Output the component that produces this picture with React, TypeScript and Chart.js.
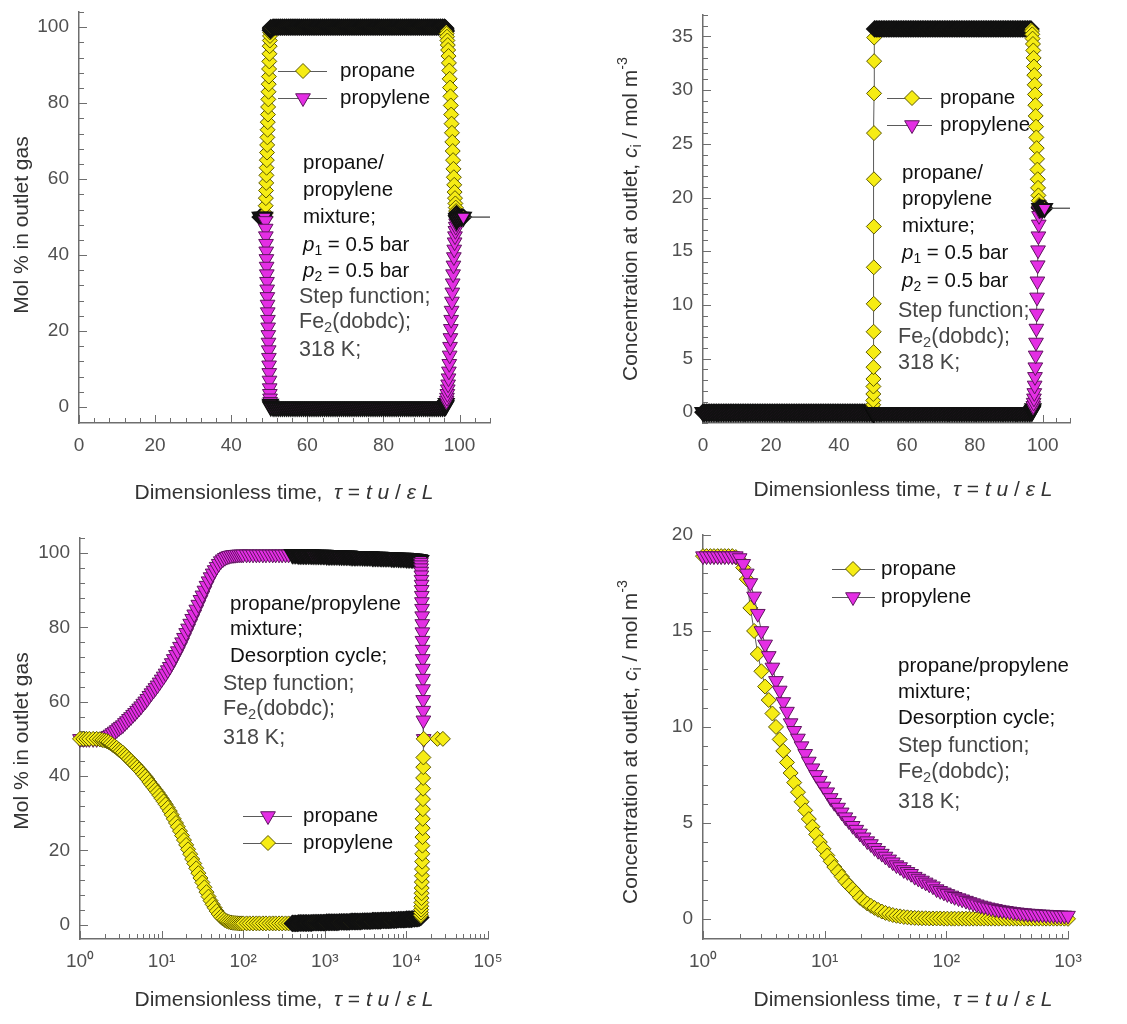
import React, { useEffect, useRef } from 'react';
import { Chart, registerables } from 'chart.js';

Chart.register(...registerables);

const PAGE_W = 1127;
const PAGE_H = 1024;
const FONT = '"Liberation Sans", Arial, Helvetica, sans-serif';

// ---------- top-left: outlet composition (mol %) during the adsorption step ----------
const adsTime = [
  47.6, 48, 48.4, 48.8,
  49, 49.05, 49.1, 49.15, 49.2, 49.25, 49.3, 49.35, 49.4, 49.45,
  49.5, 49.55, 49.6, 49.65, 49.7, 49.75, 49.8, 49.85, 49.9, 49.95,
  50, 50.05, 50.1, 50.15, 50.2, 50.25, 50.3, 50.35, 50.4,
  51, 51.5, 52, 52.5, 53, 53.5, 54, 54.5, 55, 55.5, 56, 56.5, 57, 57.5, 58, 58.5, 59, 59.5, 60, 60.5,
  61, 61.5, 62, 62.5, 63, 63.5, 64, 64.5, 65, 65.5, 66, 66.5, 67, 67.5, 68, 68.5, 69, 69.5, 70, 70.5,
  71, 71.5, 72, 72.5, 73, 73.5, 74, 74.5, 75, 75.5, 76, 76.5, 77, 77.5, 78, 78.5, 79, 79.5, 80, 80.5,
  81, 81.5, 82, 82.5, 83, 83.5, 84, 84.5, 85, 85.5, 86, 86.5, 87, 87.5, 88, 88.5, 89, 89.5, 90, 90.5,
  91, 91.5, 92, 92.5, 93, 93.5, 94, 94.5, 95, 95.5, 96,
  96.3, 96.4, 96.5, 96.6, 96.7, 96.8, 96.9, 97, 97.1, 97.2,
  97.3, 97.4, 97.5, 97.6, 97.7, 97.8, 97.9, 98, 98.1, 98.2,
  98.3, 98.4, 98.5, 98.6, 98.7, 98.8, 98.9, 99, 99.1, 99.2, 99.3,
  99.6, 100, 100.5, 101, 115,
];
const adsPropaneMolPct = [
  50, 50, 50, 50,
  51, 53, 55, 57, 59, 61, 63, 65, 67, 69,
  71, 73, 75, 77, 79, 81, 83, 85, 87, 89,
  91, 93, 95, 96.5, 97.7, 98.6, 99.2, 99.6, 99.9,
  100, 100, 100, 100, 100, 100, 100, 100, 100, 100, 100, 100, 100, 100, 100, 100, 100, 100, 100, 100,
  100, 100, 100, 100, 100, 100, 100, 100, 100, 100, 100, 100, 100, 100, 100, 100, 100, 100, 100, 100,
  100, 100, 100, 100, 100, 100, 100, 100, 100, 100, 100, 100, 100, 100, 100, 100, 100, 100, 100, 100,
  100, 100, 100, 100, 100, 100, 100, 100, 100, 100, 100, 100, 100, 100, 100, 100, 100, 100, 100, 100,
  100, 100, 100, 100, 100, 100, 100, 100, 100, 100, 100,
  99.8, 99.5, 99, 98.3, 97.5, 96.5, 95.3, 94, 92.4, 90.6,
  88.6, 86.4, 84.1, 81.8, 79.4, 77, 74.6, 72.2, 69.8, 67.4,
  65, 62.7, 60.5, 58.5, 56.6, 55, 53.6, 52.5, 51.6, 50.9, 50.4,
  50.1, 50, 50, 50, 50,
];
const adsPropyleneMolPct = [
  50, 50, 50, 50,
  49, 47, 45, 43, 41, 39, 37, 35, 33, 31,
  29, 27, 25, 23, 21, 19, 17, 15, 13, 11,
  9, 7, 5, 3.5, 2.3, 1.4, 0.8, 0.4, 0.1,
  0, 0, 0, 0, 0, 0, 0, 0, 0, 0, 0, 0, 0, 0, 0, 0, 0, 0, 0, 0,
  0, 0, 0, 0, 0, 0, 0, 0, 0, 0, 0, 0, 0, 0, 0, 0, 0, 0, 0, 0,
  0, 0, 0, 0, 0, 0, 0, 0, 0, 0, 0, 0, 0, 0, 0, 0, 0, 0, 0, 0,
  0, 0, 0, 0, 0, 0, 0, 0, 0, 0, 0, 0, 0, 0, 0, 0, 0, 0, 0, 0,
  0, 0, 0, 0, 0, 0, 0, 0, 0, 0, 0,
  0.2, 0.5, 1, 1.7, 2.5, 3.5, 4.7, 6, 7.6, 9.4,
  11.4, 13.6, 15.9, 18.2, 20.6, 23, 25.4, 27.8, 30.2, 32.6,
  35, 37.3, 39.5, 41.5, 43.4, 45, 46.4, 47.5, 48.4, 49.1, 49.6,
  49.9, 50, 50, 50, 50,
];

// ---------- top-right: outlet concentrations (mol m^-3) during adsorption ----------
const adsConcTime = [
  0, 0.5, 1, 1.5, 2, 2.5, 3, 3.5, 4, 4.5, 5, 5.5, 6, 6.5, 7, 7.5, 8, 8.5, 9, 9.5,
  10, 10.5, 11, 11.5, 12, 12.5, 13, 13.5, 14, 14.5, 15, 15.5, 16, 16.5, 17, 17.5, 18, 18.5, 19, 19.5,
  20, 20.5, 21, 21.5, 22, 22.5, 23, 23.5, 24, 24.5, 25, 25.5, 26, 26.5, 27, 27.5, 28, 28.5, 29, 29.5,
  30, 30.5, 31, 31.5, 32, 32.5, 33, 33.5, 34, 34.5, 35, 35.5, 36, 36.5, 37, 37.5, 38, 38.5, 39, 39.5,
  40, 40.5, 41, 41.5, 42, 42.5, 43, 43.5, 44, 44.5, 45, 45.5, 46, 46.5, 47, 47.5, 48, 48.5, 49, 49.5,
  50, 50.02, 50.04, 50.06, 50.08, 50.1, 50.12, 50.14, 50.16, 50.18,
  50.2, 50.22, 50.24, 50.26, 50.28, 50.3, 50.32, 50.34, 50.36, 50.38,
  50.5, 51, 51.5, 52, 52.5, 53, 53.5, 54, 54.5, 55, 55.5, 56, 56.5, 57, 57.5, 58, 58.5, 59, 59.5, 60,
  60.5, 61, 61.5, 62, 62.5, 63, 63.5, 64, 64.5, 65, 65.5, 66, 66.5, 67, 67.5, 68, 68.5, 69, 69.5, 70,
  70.5, 71, 71.5, 72, 72.5, 73, 73.5, 74, 74.5, 75, 75.5, 76, 76.5, 77, 77.5, 78, 78.5, 79, 79.5, 80,
  80.5, 81, 81.5, 82, 82.5, 83, 83.5, 84, 84.5, 85, 85.5, 86, 86.5, 87, 87.5, 88, 88.5, 89, 89.5, 90,
  90.5, 91, 91.5, 92, 92.5, 93, 93.5, 94, 94.5, 95, 95.5, 96, 96.5,
  96.8, 96.9, 97, 97.1, 97.2, 97.3, 97.4, 97.5, 97.6, 97.7, 97.8, 97.9,
  98, 98.1, 98.2, 98.3, 98.4, 98.5, 98.6, 98.7, 98.8, 98.9, 99, 99.1,
  99.5, 100, 100.5, 115,
];
const adsPropaneConc = [
  0, 0, 0, 0, 0, 0, 0, 0, 0, 0, 0, 0, 0, 0, 0, 0, 0, 0, 0, 0,
  0, 0, 0, 0, 0, 0, 0, 0, 0, 0, 0, 0, 0, 0, 0, 0, 0, 0, 0, 0,
  0, 0, 0, 0, 0, 0, 0, 0, 0, 0, 0, 0, 0, 0, 0, 0, 0, 0, 0, 0,
  0, 0, 0, 0, 0, 0, 0, 0, 0, 0, 0, 0, 0, 0, 0, 0, 0, 0, 0, 0,
  0, 0, 0, 0, 0, 0, 0, 0, 0, 0, 0, 0, 0, 0, 0, 0, 0, 0, 0, 0,
  0.05, 0.1, 0.2, 0.4, 0.7, 1.1, 1.7, 2.4, 3.1, 4.2,
  5.6, 7.5, 10.1, 13.5, 17.3, 21.7, 26, 29.7, 32.7, 34.9,
  35.7, 35.7, 35.7, 35.7, 35.7, 35.7, 35.7, 35.7, 35.7, 35.7, 35.7, 35.7, 35.7, 35.7, 35.7, 35.7, 35.7, 35.7, 35.7, 35.7,
  35.7, 35.7, 35.7, 35.7, 35.7, 35.7, 35.7, 35.7, 35.7, 35.7, 35.7, 35.7, 35.7, 35.7, 35.7, 35.7, 35.7, 35.7, 35.7, 35.7,
  35.7, 35.7, 35.7, 35.7, 35.7, 35.7, 35.7, 35.7, 35.7, 35.7, 35.7, 35.7, 35.7, 35.7, 35.7, 35.7, 35.7, 35.7, 35.7, 35.7,
  35.7, 35.7, 35.7, 35.7, 35.7, 35.7, 35.7, 35.7, 35.7, 35.7, 35.7, 35.7, 35.7, 35.7, 35.7, 35.7, 35.7, 35.7, 35.7, 35.7,
  35.7, 35.7, 35.7, 35.7, 35.7, 35.7, 35.7, 35.7, 35.7, 35.7, 35.7, 35.7, 35.7,
  35.5, 35.2, 34.8, 34.3, 33.7, 33, 32.2, 31.4, 30.5, 29.6, 28.6, 27.6,
  26.6, 25.6, 24.6, 23.6, 22.6, 21.7, 20.9, 20.2, 19.7, 19.3, 19.1, 19,
  19, 19, 19, 19,
];
const adsPropyleneConc = [
  0, 0, 0, 0, 0, 0, 0, 0, 0, 0, 0, 0, 0, 0, 0, 0, 0, 0, 0, 0,
  0, 0, 0, 0, 0, 0, 0, 0, 0, 0, 0, 0, 0, 0, 0, 0, 0, 0, 0, 0,
  0, 0, 0, 0, 0, 0, 0, 0, 0, 0, 0, 0, 0, 0, 0, 0, 0, 0, 0, 0,
  0, 0, 0, 0, 0, 0, 0, 0, 0, 0, 0, 0, 0, 0, 0, 0, 0, 0, 0, 0,
  0, 0, 0, 0, 0, 0, 0, 0, 0, 0, 0, 0, 0, 0, 0, 0, 0, 0, 0, 0,
  0, 0, 0, 0, 0, 0, 0, 0, 0, 0,
  0, 0, 0, 0, 0, 0, 0, 0, 0, 0,
  0, 0, 0, 0, 0, 0, 0, 0, 0, 0, 0, 0, 0, 0, 0, 0, 0, 0, 0, 0,
  0, 0, 0, 0, 0, 0, 0, 0, 0, 0, 0, 0, 0, 0, 0, 0, 0, 0, 0, 0,
  0, 0, 0, 0, 0, 0, 0, 0, 0, 0, 0, 0, 0, 0, 0, 0, 0, 0, 0, 0,
  0, 0, 0, 0, 0, 0, 0, 0, 0, 0, 0, 0, 0, 0, 0, 0, 0, 0, 0, 0,
  0, 0, 0, 0, 0, 0, 0, 0, 0, 0, 0, 0, 0,
  0.05, 0.1, 0.2, 0.35, 0.6, 0.9, 1.3, 1.8, 2.5, 3.3, 4.2, 5.3,
  6.5, 7.8, 9.2, 10.7, 12.2, 13.7, 15.1, 16.4, 17.5, 18.3, 18.8, 19,
  19, 19, 19, 19,
];

// ---------- bottom-left: outlet composition (mol %) during desorption ----------
const desTime = [
  1, 1.1, 1.2, 1.3, 1.45, 1.6, 1.75, 1.88,
  2, 2.12, 2.24, 2.37, 2.51, 2.66, 2.82, 2.99, 3.16, 3.35,
  3.55, 3.76, 3.98, 4.22, 4.47, 4.73, 5.01, 5.31, 5.62, 5.96,
  6.31, 6.68, 7.08, 7.5, 7.94, 8.41, 8.91, 9.44, 10, 10.6,
  11.2, 11.9, 12.6, 13.3, 14.1, 15, 15.8, 16.8, 17.8, 18.8,
  20, 21.1, 22.4, 23.7, 25.1, 26.6, 28.2, 29.9, 31.6, 33.5,
  35.5, 37.6, 39.8, 42.2, 44.7, 47.3, 50.1, 53.1, 56.2, 59.6,
  63.1, 66.8, 70.8, 75, 79.4, 84.1, 89.1, 94.4, 100,
  110, 120, 132, 145, 158, 174, 190, 210, 230, 250,
  275, 300, 330, 360, 400,
  420, 440, 460, 480, 500, 525, 550, 575, 600, 630,
  660, 690, 720, 760, 800, 840, 880, 920, 960, 1000,
  1050, 1100, 1150, 1200, 1260, 1320, 1380, 1450, 1520, 1600,
  1680, 1760, 1840, 1920, 2000, 2100, 2200, 2300, 2400, 2500,
  2630, 2760, 2900, 3050, 3200, 3350, 3500, 3670, 3850, 4000,
  4200, 4400, 4600, 4800, 5000, 5250, 5500, 5750, 6000, 6300,
  6600, 6900, 7200, 7600, 8000, 8400, 8800, 9200, 9600, 10000,
  10500, 11000, 11500, 12000, 12600, 13200, 13800, 14400,
  15000, 15050, 15100, 15150, 15200, 15250, 15300, 15350, 15400, 15450,
  15500, 15550, 15600, 15650, 15700, 15750, 15800, 15850, 15900, 15950,
  16000, 16050, 16100, 16150,
  16300, 24000, 28000,
];
// legend of this panel: magenta triangles = "propane" (series ends at the 16300 point)
const desPropaneMolPct = [
  50, 50, 50, 50, 50, 50, 50.1, 50.3,
  50.45, 50.6, 50.85, 51.2, 51.6, 52, 52.4, 52.9, 53.3, 53.7,
  54.3, 54.8, 55.4, 55.9, 56.5, 57, 57.6, 58.2, 58.8, 59.5,
  60.1, 60.8, 61.6, 62.3, 63, 63.7, 64.4, 65.2, 66, 66.8,
  67.6, 68.5, 69.4, 70.4, 71.5, 72.6, 73.6, 74.8, 76, 77.2,
  78.5, 79.7, 81, 82.3, 83.5, 84.8, 86.1, 87.4, 88.6, 89.9,
  91.2, 92.4, 93.5, 94.5, 95.4, 96.3, 97.1, 97.8, 98.3, 98.7,
  99, 99.2, 99.35, 99.45, 99.5, 99.55, 99.6, 99.6, 99.6,
  99.6, 99.6, 99.6, 99.6, 99.6, 99.6, 99.6, 99.6, 99.6, 99.6,
  99.6, 99.6, 99.6, 99.6, 99.6,
  99.6, 99.6, 99.6, 99.5, 99.5, 99.5, 99.5, 99.5, 99.5, 99.5,
  99.5, 99.5, 99.4, 99.4, 99.4, 99.4, 99.4, 99.4, 99.4, 99.4,
  99.3, 99.3, 99.3, 99.3, 99.3, 99.3, 99.3, 99.3, 99.2, 99.2,
  99.2, 99.2, 99.2, 99.2, 99.2, 99.1, 99.1, 99.1, 99.1, 99.1,
  99.1, 99.1, 99, 99, 99, 99, 99, 99, 98.9, 98.9,
  98.9, 98.9, 98.9, 98.9, 98.8, 98.8, 98.8, 98.8, 98.8, 98.8,
  98.7, 98.7, 98.7, 98.7, 98.6, 98.6, 98.6, 98.6, 98.6, 98.5,
  98.5, 98.5, 98.5, 98.4, 98.4, 98.3, 98.3, 98.2,
  98, 97.4, 96.7, 95.9, 95, 94, 92.8, 91.5, 90.1, 88.5,
  86.8, 85, 83, 80.9, 78.7, 76.4, 74, 71.5, 68.9, 66.2,
  63.4, 60.5, 57.6, 55,
  50,
];
// legend of this panel: yellow diamonds = "propylene"
const desPropyleneMolPct = [
  50, 50, 50, 50, 50, 50, 49.9, 49.7,
  49.55, 49.4, 49.15, 48.8, 48.4, 48, 47.6, 47.1, 46.7, 46.3,
  45.7, 45.2, 44.6, 44.1, 43.5, 43, 42.4, 41.8, 41.2, 40.5,
  39.9, 39.2, 38.4, 37.7, 37, 36.3, 35.6, 34.8, 34, 33.2,
  32.4, 31.5, 30.6, 29.6, 28.5, 27.4, 26.4, 25.2, 24, 22.8,
  21.5, 20.3, 19, 17.7, 16.5, 15.2, 13.9, 12.6, 11.4, 10.1,
  8.8, 7.6, 6.5, 5.5, 4.6, 3.7, 2.9, 2.2, 1.7, 1.3,
  1, 0.8, 0.65, 0.55, 0.5, 0.45, 0.4, 0.4, 0.4,
  0.4, 0.4, 0.4, 0.4, 0.4, 0.4, 0.4, 0.4, 0.4, 0.4,
  0.4, 0.4, 0.4, 0.4, 0.4,
  0.4, 0.4, 0.4, 0.5, 0.5, 0.5, 0.5, 0.5, 0.5, 0.5,
  0.5, 0.5, 0.6, 0.6, 0.6, 0.6, 0.6, 0.6, 0.6, 0.6,
  0.7, 0.7, 0.7, 0.7, 0.7, 0.7, 0.7, 0.7, 0.8, 0.8,
  0.8, 0.8, 0.8, 0.8, 0.8, 0.9, 0.9, 0.9, 0.9, 0.9,
  0.9, 0.9, 1, 1, 1, 1, 1, 1, 1.1, 1.1,
  1.1, 1.1, 1.1, 1.1, 1.2, 1.2, 1.2, 1.2, 1.2, 1.2,
  1.3, 1.3, 1.3, 1.3, 1.4, 1.4, 1.4, 1.4, 1.4, 1.5,
  1.5, 1.5, 1.5, 1.6, 1.6, 1.7, 1.7, 1.8,
  2, 2.6, 3.3, 4.1, 5, 6, 7.2, 8.5, 9.9, 11.5,
  13.2, 15, 17, 19.1, 21.3, 23.6, 26, 28.5, 31.1, 33.8,
  36.6, 39.5, 42.4, 45,
  50, 50, 50,
];

// ---------- bottom-right: outlet concentrations (mol m^-3) during desorption ----------
const desConcTime = [
  1, 1.07, 1.15, 1.23, 1.32, 1.41, 1.51, 1.62, 1.74, 1.86,
  2, 2.14, 2.29, 2.45, 2.63, 2.82, 3.02, 3.24, 3.47, 3.72,
  3.98, 4.27, 4.57, 4.9, 5.25, 5.62, 6.03, 6.46, 6.92, 7.41,
  7.94, 8.51, 9.12, 9.77, 10.5, 11.2, 12, 12.9, 13.8, 14.8,
  15.8, 17, 18.2, 19.5, 20.9, 22.4, 24, 25.7, 27.5, 29.5,
  31.6, 33.9, 36.3, 38.9, 41.7, 44.7, 47.9, 51.3, 55, 58.9,
  63.1, 67.6, 72.4, 77.6, 83.2, 89.1, 95.5, 102, 110, 117,
  126, 135, 145, 155, 166, 178, 191, 204, 219, 234,
  251, 269, 288, 309, 331, 355, 380, 407, 437, 468,
  501, 537, 575, 617, 661, 708, 759, 813, 871, 933,
  1000,
];
const desPropaneConc = [
  18.9, 18.9, 18.9, 18.9, 18.9, 18.9, 18.9, 18.9, 18.9, 18.85,
  18.7, 18.3, 17.7, 16.2, 15, 13.8, 12.9, 12.1, 11.4, 10.7,
  10, 9.35, 8.75, 8.15, 7.6, 7.1, 6.6, 6.1, 5.65, 5.2,
  4.8, 4.4, 4, 3.65, 3.3, 3, 2.7, 2.45, 2.2, 1.95,
  1.75, 1.55, 1.35, 1.1, 0.95, 0.8, 0.68, 0.57, 0.47, 0.38,
  0.31, 0.25, 0.2, 0.16, 0.13, 0.1, 0.08, 0.06, 0.05, 0.04,
  0.03, 0.03, 0.02, 0.02, 0.02, 0.02, 0.01, 0.01, 0.01, 0.01,
  0.01, 0.01, 0.01, 0.01, 0.01, 0.01, 0.01, 0.01, 0.01, 0.01,
  0.01, 0.01, 0.01, 0.01, 0.01, 0.01, 0.01, 0.01, 0.01, 0.01,
  0.01, 0.01, 0.01, 0.01, 0.01, 0.01, 0.01, 0.01, 0.01, 0.01,
  0,
];
const desPropyleneConc = [
  18.9, 18.9, 18.9, 18.9, 18.9, 18.9, 18.9, 18.9, 18.9, 18.9,
  18.8, 18.5, 18, 17.5, 16.8, 15.9, 15, 14.3, 13.7, 13.1,
  12.4, 11.9, 11.3, 10.8, 10.2, 9.8, 9.4, 9, 8.6, 8.2,
  7.85, 7.5, 7.2, 6.9, 6.6, 6.3, 6.05, 5.8, 5.55, 5.3,
  5.1, 4.85, 4.65, 4.45, 4.25, 4.05, 3.9, 3.7, 3.55, 3.4,
  3.25, 3.1, 2.95, 2.8, 2.7, 2.55, 2.45, 2.35, 2.2, 2.1,
  2, 1.9, 1.8, 1.7, 1.55, 1.46, 1.38, 1.3, 1.22, 1.15,
  1.08, 1.02, 0.95, 0.88, 0.82, 0.76, 0.7, 0.65, 0.6, 0.56,
  0.52, 0.48, 0.45, 0.42, 0.39, 0.36, 0.34, 0.32, 0.3, 0.28,
  0.27, 0.25, 0.24, 0.23, 0.22, 0.21, 0.2, 0.19, 0.18, 0.18,
  0.17,
];

// ---------- axis ticks ----------
const linearTimeTicks = [0, 20, 40, 60, 80, 100];
const linearTimeLabels = ['0', '20', '40', '60', '80', '100'];
const molPctTicks = [0, 20, 40, 60, 80, 100];
const molPctLabels = ['0', '20', '40', '60', '80', '100'];
const adsConcTicks = [0, 5, 10, 15, 20, 25, 30, 35];
const adsConcLabels = ['0', '5', '10', '15', '20', '25', '30', '35'];
const desConcTicks = [0, 5, 10, 15, 20];
const desConcLabels = ['0', '5', '10', '15', '20'];
const logTimeTicksWide = [1, 10, 100, 1000, 10000, 100000];
const logTimeLabelsWide = ['10⁰', '10¹', '10²', '10³', '10⁴', '10⁵'];
const logTimeTicksShort = [1, 10, 100, 1000];
const logTimeLabelsShort = ['10⁰', '10¹', '10²', '10³'];

// ---------- styling ----------
const YELLOW_FILL = '#f6ec14';
const YELLOW_EDGE = '#5c5800';
const MAGENTA_FILL = '#e42ee4';
const MAGENTA_EDGE = '#5e145e';
const DENSE_EDGE = '#111111';
const LINK = '#5a5a5a';
const AXIS = '#6e6e6e';
const TICK_TEXT = '#505050';
const TITLE_TEXT = '#333333';
const NOTE_DARK = '#111111';
const NOTE_GRAY = '#474747';
const DIAMOND_R = 7.5;
const TRIANGLE_R = 8.5;
const PACKED_PX = 1.96;
const Y_SCALE_W = 60;
const X_SCALE_H = 40;

type Marker = 'diamond' | 'triangle';
interface SeriesSpec { label: string; time: number[]; values: number[]; marker: Marker; front: boolean }
interface AxisSpec { type: 'linear' | 'logarithmic'; min: number; max: number; ticks: number[]; labels: string[]; minorStep?: number }
interface Note { text: string; x: number; y: number; gray?: boolean }
interface PanelSpec {
  key: string;
  area: { left: number; top: number; right: number; bottom: number };
  x: AxisSpec;
  y: AxisSpec;
  series: SeriesSpec[];
  clip: any;
  yTitle: string;
  yTitleAt: [number, number];
  xTitle: string;
  xTitleAt: [number, number];
  legend: { lineFrom: number; lineTo: number; markerX: number; textX: number; rows: { series: number; y: number }[] };
  notes: Note[];
}

const X_TITLE = 'Dimensionless time,  *τ* = *t u* / *ε L*';
const CONC_TITLE = 'Concentration at outlet, *c*_{i} / mol m^{-3}';

const PANELS: PanelSpec[] = [
  {
    key: 'ads-molpct',
    area: { left: 79, top: 12, right: 490, bottom: 423 },
    x: { type: 'linear', min: 0, max: 108, ticks: linearTimeTicks, labels: linearTimeLabels, minorStep: 4 },
    y: { type: 'linear', min: -4.2, max: 104, ticks: molPctTicks, labels: molPctLabels, minorStep: 4 },
    series: [
      { label: 'propane', time: adsTime, values: adsPropaneMolPct, marker: 'diamond', front: false },
      { label: 'propylene', time: adsTime, values: adsPropyleneMolPct, marker: 'triangle', front: true },
    ],
    clip: { left: 12, top: 12, right: 0, bottom: 12 },
    yTitle: 'Mol % in outlet gas',
    yTitleAt: [22, 225],
    xTitle: X_TITLE,
    xTitleAt: [284, 493],
    legend: { lineFrom: 278, lineTo: 327, markerX: 303, textX: 340, rows: [{ series: 0, y: 71 }, { series: 1, y: 98 }] },
    notes: [
      { text: 'propane/', x: 303, y: 163 },
      { text: 'propylene', x: 303, y: 190 },
      { text: 'mixture;', x: 303, y: 217 },
      { text: '*p*_{1} = 0.5 bar', x: 303, y: 245 },
      { text: '*p*_{2} = 0.5 bar', x: 303, y: 271 },
      { text: 'Step function;', x: 299, y: 297, gray: true },
      { text: 'Fe_{2}(dobdc);', x: 299, y: 322, gray: true },
      { text: '318 K;', x: 299, y: 350, gray: true },
    ],
  },
  {
    key: 'ads-conc',
    area: { left: 703, top: 15, right: 1070, bottom: 423 },
    x: { type: 'linear', min: 0, max: 108, ticks: linearTimeTicks, labels: linearTimeLabels, minorStep: 4 },
    y: { type: 'linear', min: -1, max: 37, ticks: adsConcTicks, labels: adsConcLabels, minorStep: 1 },
    series: [
      { label: 'propane', time: adsConcTime, values: adsPropaneConc, marker: 'diamond', front: false },
      { label: 'propylene', time: adsConcTime, values: adsPropyleneConc, marker: 'triangle', front: true },
    ],
    clip: { left: 12, top: 12, right: 0, bottom: 12 },
    yTitle: CONC_TITLE,
    yTitleAt: [631, 219],
    xTitle: X_TITLE,
    xTitleAt: [903, 490],
    legend: { lineFrom: 887, lineTo: 932, markerX: 912, textX: 940, rows: [{ series: 0, y: 98 }, { series: 1, y: 125 }] },
    notes: [
      { text: 'propane/', x: 902, y: 173 },
      { text: 'propylene', x: 902, y: 199 },
      { text: 'mixture;', x: 902, y: 226 },
      { text: '*p*_{1} = 0.5 bar', x: 902, y: 253 },
      { text: '*p*_{2} = 0.5 bar', x: 902, y: 281 },
      { text: 'Step function;', x: 898, y: 311, gray: true },
      { text: 'Fe_{2}(dobdc);', x: 898, y: 337, gray: true },
      { text: '318 K;', x: 898, y: 363, gray: true },
    ],
  },
  {
    key: 'des-molpct',
    area: { left: 80, top: 538, right: 488, bottom: 939 },
    x: { type: 'logarithmic', min: 1, max: 100000, ticks: logTimeTicksWide, labels: logTimeLabelsWide },
    y: { type: 'linear', min: -3.8, max: 104, ticks: molPctTicks, labels: molPctLabels, minorStep: 4 },
    series: [
      { label: 'propane', time: desTime, values: desPropaneMolPct, marker: 'triangle', front: false },
      { label: 'propylene', time: desTime, values: desPropyleneMolPct, marker: 'diamond', front: true },
    ],
    clip: false,
    yTitle: 'Mol % in outlet gas',
    yTitleAt: [22, 741],
    xTitle: X_TITLE,
    xTitleAt: [284, 1000],
    legend: { lineFrom: 243, lineTo: 292, markerX: 268, textX: 303, rows: [{ series: 0, y: 816 }, { series: 1, y: 843 }] },
    notes: [
      { text: 'propane/propylene', x: 230, y: 604 },
      { text: 'mixture;', x: 230, y: 629 },
      { text: 'Desorption cycle;', x: 230, y: 656 },
      { text: 'Step function;', x: 223, y: 684, gray: true },
      { text: 'Fe_{2}(dobdc);', x: 223, y: 709, gray: true },
      { text: '318 K;', x: 223, y: 738, gray: true },
    ],
  },
  {
    key: 'des-conc',
    area: { left: 703, top: 535, right: 1068, bottom: 939 },
    x: { type: 'logarithmic', min: 1, max: 1000, ticks: logTimeTicksShort, labels: logTimeLabelsShort },
    y: { type: 'linear', min: -1.05, max: 20, ticks: desConcTicks, labels: desConcLabels, minorStep: 1 },
    series: [
      { label: 'propane', time: desConcTime, values: desPropaneConc, marker: 'diamond', front: false },
      { label: 'propylene', time: desConcTime, values: desPropyleneConc, marker: 'triangle', front: true },
    ],
    clip: false,
    yTitle: CONC_TITLE,
    yTitleAt: [631, 742],
    xTitle: X_TITLE,
    xTitleAt: [903, 1000],
    legend: { lineFrom: 832, lineTo: 875, markerX: 853, textX: 881, rows: [{ series: 0, y: 569 }, { series: 1, y: 597 }] },
    notes: [
      { text: 'propane/propylene', x: 898, y: 666 },
      { text: 'mixture;', x: 898, y: 692 },
      { text: 'Desorption cycle;', x: 898, y: 718 },
      { text: 'Step function;', x: 898, y: 746, gray: true },
      { text: 'Fe_{2}(dobdc);', x: 898, y: 772, gray: true },
      { text: '318 K;', x: 898, y: 802, gray: true },
    ],
  },
];

// ---------- rich text: *italic*, _{sub}, ^{sup} ----------
type Seg = { t: string; it: boolean; mode: number };
function parseRich(src: string): Seg[] {
  const segs: Seg[] = [];
  let it = false;
  let buf = '';
  const flush = () => {
    if (buf) segs.push({ t: buf, it, mode: 0 });
    buf = '';
  };
  for (let i = 0; i < src.length; i++) {
    const c = src[i];
    if (c === '*') {
      flush();
      it = !it;
      continue;
    }
    if ((c === '_' || c === '^') && src[i + 1] === '{') {
      flush();
      const end = src.indexOf('}', i + 2);
      segs.push({ t: src.slice(i + 2, end), it, mode: c === '^' ? 1 : -1 });
      i = end;
      continue;
    }
    buf += c;
  }
  flush();
  return segs;
}

function drawRich(ctx: CanvasRenderingContext2D, text: string, x: number, y: number, size: number, color: string, align: 'left' | 'center', angle = 0) {
  const segs = parseRich(text);
  const fontOf = (s: Seg) => `${s.it ? 'italic ' : ''}${s.mode ? size * 0.68 : size}px ${FONT}`;
  let total = 0;
  for (const s of segs) {
    ctx.font = fontOf(s);
    total += ctx.measureText(s.t).width;
  }
  ctx.save();
  ctx.translate(x, y);
  ctx.rotate(angle);
  ctx.fillStyle = color;
  ctx.textBaseline = 'middle';
  ctx.textAlign = 'left';
  let cx = align === 'center' ? -total / 2 : 0;
  for (const s of segs) {
    ctx.font = fontOf(s);
    const dy = s.mode === -1 ? size * 0.3 : s.mode === 1 ? -size * 0.38 : 0;
    ctx.fillText(s.t, cx, dy);
    cx += ctx.measureText(s.t).width;
  }
  ctx.restore();
}

function drawMarker(ctx: CanvasRenderingContext2D, kind: Marker, x: number, y: number) {
  ctx.beginPath();
  if (kind === 'diamond') {
    const r = DIAMOND_R;
    ctx.moveTo(x, y - r);
    ctx.lineTo(x + r, y);
    ctx.lineTo(x, y + r);
    ctx.lineTo(x - r, y);
  } else {
    const r = TRIANGLE_R;
    ctx.moveTo(x, y + r);
    ctx.lineTo(x - r * 0.866, y - r / 2);
    ctx.lineTo(x + r * 0.866, y - r / 2);
  }
  ctx.closePath();
  ctx.fillStyle = kind === 'diamond' ? YELLOW_FILL : MAGENTA_FILL;
  ctx.fill();
  ctx.strokeStyle = kind === 'diamond' ? YELLOW_EDGE : MAGENTA_EDGE;
  ctx.lineWidth = 1;
  ctx.stroke();
}

// Markers packed closer than about two pixels to a neighbour merge into a dark band.
function isPacked(c: any) {
  const data = c.dataset && c.dataset.data;
  const i = c.dataIndex;
  if (!data || !data[i]) return false;
  const xs = c.chart.scales.x;
  const ys = c.chart.scales.y;
  const px = xs.getPixelForValue(data[i].x);
  const py = ys.getPixelForValue(data[i].y);
  let best = Infinity;
  for (const k of [i - 1, i + 1]) {
    const q = data[k];
    if (!q) continue;
    const d = Math.hypot(xs.getPixelForValue(q.x) - px, ys.getPixelForValue(q.y) - py);
    if (d < best) best = d;
  }
  return best < PACKED_PX;
}

// ---------- axis helpers ----------
function matchIndex(values: number[], v: number) {
  return values.findIndex((t) => Math.abs(t - v) <= 1e-6 * Math.max(1, Math.abs(t)));
}
function onTickGrid(a: AxisSpec, v: number) {
  if (a.type === 'logarithmic') {
    const e = Math.floor(Math.log10(v) + 1e-9);
    const m = v / Math.pow(10, e);
    return Math.abs(m - Math.round(m)) < 1e-6;
  }
  const q = v / (a.minorStep || 1);
  return Math.abs(q - Math.round(q)) < 1e-6;
}

function decorations(p: PanelSpec) {
  return {
    id: 'decor-' + p.key,
    beforeDatasetsDraw(chart: any) {
      const { ctx, chartArea } = chart;
      const xs = chart.scales.x;
      const ys = chart.scales.y;
      ctx.save();
      ctx.strokeStyle = AXIS;
      ctx.lineWidth = 1;
      ctx.beginPath();
      for (const t of xs.ticks) {
        if (!onTickGrid(p.x, t.value)) continue;
        const len = matchIndex(p.x.ticks, t.value) >= 0 ? 8 : 5;
        const px = Math.round(xs.getPixelForValue(t.value)) + 0.5;
        ctx.moveTo(px, chartArea.bottom);
        ctx.lineTo(px, chartArea.bottom - len);
      }
      for (const t of ys.ticks) {
        if (!onTickGrid(p.y, t.value)) continue;
        const len = matchIndex(p.y.ticks, t.value) >= 0 ? 8 : 5;
        const py = Math.round(ys.getPixelForValue(t.value)) + 0.5;
        ctx.moveTo(chartArea.left, py);
        ctx.lineTo(chartArea.left + len, py);
      }
      ctx.stroke();
      ctx.restore();
    },
    afterDraw(chart: any) {
      const ctx: CanvasRenderingContext2D = chart.ctx;
      drawRich(ctx, p.yTitle, p.yTitleAt[0], p.yTitleAt[1], 21, TITLE_TEXT, 'center', -Math.PI / 2);
      drawRich(ctx, p.xTitle, p.xTitleAt[0], p.xTitleAt[1], 21, TITLE_TEXT, 'center');
      const lg = p.legend;
      for (const row of lg.rows) {
        const s = p.series[row.series];
        ctx.save();
        ctx.strokeStyle = LINK;
        ctx.lineWidth = 1;
        ctx.beginPath();
        ctx.moveTo(lg.lineFrom, row.y + 0.5);
        ctx.lineTo(lg.lineTo, row.y + 0.5);
        ctx.stroke();
        drawMarker(ctx, s.marker, lg.markerX, row.y);
        ctx.restore();
        drawRich(ctx, s.label, lg.textX, row.y, 20.5, NOTE_DARK, 'left');
      }
      for (const n of p.notes) {
        drawRich(ctx, n.text, n.x, n.y, n.gray ? 21.5 : 20.5, n.gray ? NOTE_GRAY : NOTE_DARK, 'left');
      }
    },
  };
}

function buildConfig(p: PanelSpec): any {
  const datasets = p.series.map((s) => {
    const diamond = s.marker === 'diamond';
    const edge = diamond ? YELLOW_EDGE : MAGENTA_EDGE;
    return {
      label: s.label,
      data: s.time
        .map((t, i) => ({ x: t, y: s.values[i] }))
        .filter((pt) => pt.y !== undefined),
      showLine: true,
      borderColor: LINK,
      borderWidth: 1,
      tension: 0,
      pointStyle: diamond ? 'rectRot' : 'triangle',
      pointRotation: diamond ? 0 : 180,
      pointRadius: diamond ? DIAMOND_R : TRIANGLE_R,
      pointBackgroundColor: diamond ? YELLOW_FILL : MAGENTA_FILL,
      pointBorderColor: (c: any) => (isPacked(c) ? DENSE_EDGE : edge),
      pointBorderWidth: (c: any) => (isPacked(c) ? 2 : 1),
      order: s.front ? 0 : 1,
      clip: p.clip,
    };
  });
  const axis = (a: AxisSpec, horizontal: boolean) => {
    const ticks: any = {
      autoSkip: false,
      maxRotation: 0,
      minRotation: 0,
      includeBounds: false,
      padding: horizontal ? 11 : 10,
      color: TICK_TEXT,
      font: { family: FONT, size: 19 },
      callback: (v: any) => {
        const i = matchIndex(a.ticks, Number(v));
        return i >= 0 ? a.labels[i] : '';
      },
    };
    if (a.minorStep) ticks.stepSize = a.minorStep;
    return {
      type: a.type,
      min: a.min,
      max: a.max,
      afterFit: (scale: any) => {
        if (horizontal) scale.height = X_SCALE_H;
        else scale.width = Y_SCALE_W;
        scale.paddingLeft = 0;
        scale.paddingRight = 0;
        scale.paddingTop = 0;
        scale.paddingBottom = 0;
      },
      grid: { display: false, drawTicks: false },
      border: { display: true, color: AXIS, width: 1.5 },
      ticks,
    };
  };
  return {
    type: 'line',
    data: { datasets },
    options: {
      responsive: false,
      animation: false,
      events: [],
      layout: {
        autoPadding: false,
        padding: {
          left: p.area.left - Y_SCALE_W,
          top: p.area.top,
          right: PAGE_W - p.area.right,
          bottom: PAGE_H - p.area.bottom - X_SCALE_H,
        },
      },
      plugins: { legend: { display: false }, tooltip: { enabled: false }, title: { display: false } },
      scales: { x: axis(p.x, true), y: axis(p.y, false) },
    },
    plugins: [decorations(p)],
  };
}

function Panel({ spec }: { spec: PanelSpec }) {
  const ref = useRef<HTMLCanvasElement>(null);
  useEffect(() => {
    if (!ref.current) return;
    const chart = new Chart(ref.current, buildConfig(spec));
    return () => chart.destroy();
  }, [spec]);
  return (
    <canvas
      ref={ref}
      width={PAGE_W}
      height={PAGE_H}
      style={{ position: 'absolute', left: 0, top: 0, width: PAGE_W, height: PAGE_H }}
    />
  );
}

export default function App() {
  return (
    <div style={{ position: 'absolute', left: 0, top: 0, width: PAGE_W, height: PAGE_H, background: '#ffffff', overflow: 'hidden' }}>
      {PANELS.map((p) => (
        <Panel key={p.key} spec={p} />
      ))}
    </div>
  );
}
